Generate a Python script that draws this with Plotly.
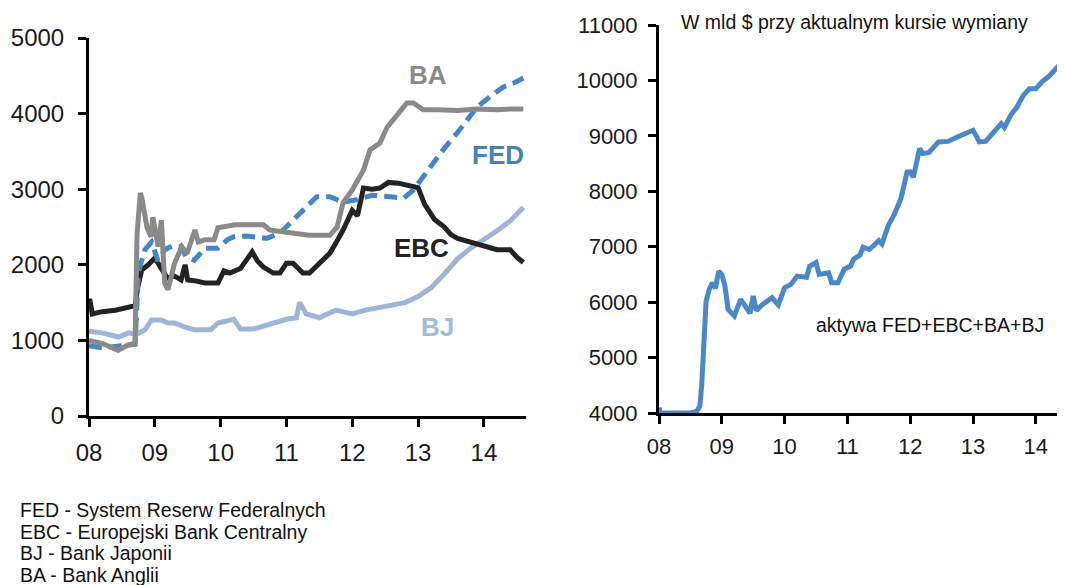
import plotly.graph_objects as go

# ---------------- data (left panel: central bank assets, bn $) ----------------
fed_x = [8.0, 8.2, 8.4, 8.6, 8.7, 8.75, 8.85, 8.95, 9.05, 9.15, 9.27, 9.4, 9.48, 9.6, 9.76, 9.96,
         10.1, 10.2, 10.4, 10.7, 10.9, 11.1, 11.25, 11.46, 11.66, 11.86, 12.07, 12.3, 12.58, 12.78,
         12.93, 13.14, 13.38, 13.59, 13.74, 13.9, 14.09, 14.29, 14.44, 14.6]
fed_y = [930, 900, 920, 950, 950, 1900, 2200, 2300, 2050, 2200, 2250, 2240, 2100, 2060, 2220, 2220,
         2330, 2370, 2380, 2350, 2420, 2590, 2720, 2900, 2900, 2830, 2860, 2920, 2900, 2880,
         2990, 3250, 3520, 3740, 3915, 4090, 4220, 4350, 4400, 4470]

ebc_x = [8.0, 8.01, 8.05, 8.2, 8.4, 8.55, 8.7, 8.74, 8.8, 8.9, 9.0, 9.1, 9.19, 9.3, 9.4, 9.46,
         9.5, 9.6, 9.76, 9.96, 10.05, 10.14, 10.3, 10.48, 10.56, 10.65, 10.8, 10.9, 11.0, 11.1,
         11.25, 11.35, 11.5, 11.66, 11.76, 11.86, 12.0, 12.08, 12.17, 12.3, 12.42, 12.55, 12.7, 12.85,
         13.0, 13.1, 13.25, 13.4, 13.5, 13.6, 13.8, 14.0, 14.2, 14.4, 14.5, 14.6]
ebc_y = [1500, 1550, 1350, 1380, 1400, 1430, 1460, 1700, 1930, 2000, 2090, 1950, 1825, 1850, 1800, 2000,
         1800, 1790, 1760, 1760, 1920, 1890, 1950, 2170, 2050, 1970, 1890, 1890, 2020, 2020,
         1890, 1890, 2020, 2155, 2300, 2460, 2720, 2650, 3015, 3000, 3015, 3090, 3080, 3050,
         3020, 2800, 2600, 2500, 2400, 2350, 2300, 2260, 2200, 2200, 2100, 2030]

ba_x = [8.0, 8.2, 8.44, 8.6, 8.7, 8.73, 8.78, 8.8, 8.88, 8.94, 8.97, 9.05, 9.1, 9.15, 9.2, 9.3,
        9.41, 9.49, 9.61, 9.66, 9.76, 9.9, 9.96, 10.22, 10.65, 10.75, 11.0, 11.34, 11.66, 11.77,
        11.86, 12.0, 12.17, 12.27, 12.42, 12.53, 12.68, 12.83, 12.93, 13.08, 13.3, 13.6, 13.9,
        14.2, 14.4, 14.6]
ba_y = [1000, 960, 870, 940, 965, 2400, 2950, 2900, 2500, 2370, 2630, 2240, 2590, 1760, 1670, 2020,
        2240, 2150, 2460, 2300, 2330, 2330, 2490, 2530, 2530, 2460, 2430, 2390, 2390, 2500,
        2820, 2990, 3250, 3520, 3610, 3820, 3980, 4140, 4140, 4050, 4050, 4040, 4060,
        4050, 4060, 4060]

bj_x = [8.0, 8.2, 8.45, 8.6, 8.72, 8.85, 8.95, 9.1, 9.2, 9.3, 9.45, 9.6, 9.85, 9.96, 10.2, 10.3,
        10.5, 10.7, 10.9, 11.0, 11.15, 11.2, 11.3, 11.5, 11.75, 12.0, 12.2, 12.5, 12.8, 13.0,
        13.2, 13.4, 13.6, 13.8, 14.0, 14.2, 14.4, 14.5, 14.6]
bj_y = [1120, 1100, 1045, 1100, 1080, 1140, 1270, 1270, 1230, 1230, 1180, 1140, 1140, 1230, 1280, 1150,
        1150, 1200, 1250, 1280, 1300, 1500, 1350, 1300, 1400, 1350, 1400, 1450, 1500, 1580,
        1700, 1880, 2080, 2220, 2330, 2450, 2580, 2660, 2760]

# ---------------- data (right panel: sum of four banks, bn $) ----------------
tot_x = [8.0, 8.02, 8.1, 8.3, 8.5, 8.6, 8.65, 8.68, 8.72, 8.75, 8.8, 8.85, 8.9, 8.95, 9.0, 9.05,
         9.1, 9.15, 9.2, 9.3, 9.4, 9.45, 9.5, 9.55, 9.65, 9.8, 9.9, 10.0, 10.1, 10.2, 10.35, 10.4,
         10.5, 10.55, 10.7, 10.75, 10.85, 10.95, 11.05, 11.1, 11.2, 11.25, 11.35, 11.5, 11.55, 11.65,
         11.75, 11.85, 11.95, 12.0, 12.05, 12.15, 12.2, 12.3, 12.45, 12.6, 12.75, 12.9, 13.0, 13.05,
         13.1, 13.2, 13.3, 13.45, 13.5, 13.6, 13.7, 13.8, 13.9, 14.0, 14.1, 14.2, 14.3, 14.4,
         14.43, 14.46]
tot_y = [4100, 4000, 4000, 3990, 4000, 4030, 4120, 4500, 5510, 6020, 6230, 6350, 6250, 6560, 6500, 6290,
         5870, 5810, 5750, 6050, 5900, 5800, 6110, 5850, 5960, 6080, 5950, 6260, 6320, 6470, 6450, 6650,
         6715, 6500, 6530, 6350, 6350, 6595, 6650, 6775, 6850, 6990, 6950, 7110, 7050, 7380,
         7590, 7860, 8345, 8350, 8255, 8770, 8680, 8700, 8890, 8900, 8980, 9050, 9100, 9000,
         8890, 8900, 9040, 9220, 9150, 9370, 9520, 9730, 9850, 9850, 9975, 10065, 10185, 10305,
         10245, 10300]

year_ticks = [8, 9, 10, 11, 12, 13, 14]
year_labels = ["08", "09", "10", "11", "12", "13", "14"]
left_ticks = [0, 1000, 2000, 3000, 4000, 5000]
right_ticks = [4000, 5000, 6000, 7000, 8000, 9000, 10000, 11000]

legend_lines = ["FED - System Reserw Federalnych",
                "EBC - Europejski Bank Centralny",
                "BJ - Bank Japonii",
                "BA - Bank Anglii"]

# ---------------- styles ----------------
C_FED = "#4686c4"
C_EBC = "#232323"
C_BA = "#8a8a8a"
C_BJ = "#9fb4d6"
C_TOT = "#4a88c6"
FONT = "Liberation Sans, Arial, sans-serif"
W, H = 1065, 585
OFF = 8  # page body margin


def px(x):
    return (x - OFF) / W


def py(y):
    return 1 - (y - OFF) / H


fig = go.Figure()
fig.add_trace(go.Scatter(x=bj_x, y=bj_y, mode="lines", line=dict(color=C_BJ, width=5),
                         xaxis="x", yaxis="y", showlegend=False))
fig.add_trace(go.Scatter(x=ebc_x, y=ebc_y, mode="lines", line=dict(color=C_EBC, width=5),
                         xaxis="x", yaxis="y", showlegend=False))
fig.add_trace(go.Scatter(x=fed_x, y=fed_y, mode="lines",
                         line=dict(color=C_FED, width=5, dash="13px,7px"),
                         xaxis="x", yaxis="y", showlegend=False))
fig.add_trace(go.Scatter(x=ba_x, y=ba_y, mode="lines", line=dict(color=C_BA, width=5),
                         xaxis="x", yaxis="y", showlegend=False))
fig.add_trace(go.Scatter(x=tot_x, y=tot_y, mode="lines", line=dict(color=C_TOT, width=5),
                         xaxis="x2", yaxis="y2", showlegend=False))

axis_common = dict(showgrid=False, zeroline=False, showline=True, linecolor="black", linewidth=3,
                   ticks="outside", ticklen=8, tickwidth=2.5, tickcolor="black", automargin=False)

fig.update_layout(
    width=W, height=H,
    margin=dict(l=0, r=0, t=0, b=0),
    paper_bgcolor="white", plot_bgcolor="white",
    xaxis=dict(domain=[px(89), px(526)], range=[8, 14.64], tickvals=year_ticks, ticktext=year_labels,
               anchor="y", tickfont=dict(family=FONT, size=24, color="#1a1a1a"),
               ticklabelstandoff=5, **axis_common),
    yaxis=dict(domain=[py(416), py(38)], range=[0, 5000], tickvals=left_ticks,
               ticktext=[str(v) for v in left_ticks], anchor="x",
               tickfont=dict(family=FONT, size=24, color="#1a1a1a"),
               ticklabelstandoff=9, **axis_common),
    xaxis2=dict(domain=[px(659), px(1065)], range=[8, 14.465], tickvals=year_ticks, ticktext=year_labels,
                anchor="y2", tickfont=dict(family=FONT, size=22, color="#1a1a1a"),
                ticklabelstandoff=4, **axis_common),
    yaxis2=dict(domain=[py(413), py(25)], range=[4000, 11000], tickvals=right_ticks,
                ticktext=[str(v) for v in right_ticks], anchor="x2",
                tickfont=dict(family=FONT, size=22, color="#1a1a1a"),
                ticklabelstandoff=6, **axis_common),
)

annos = [
    dict(text="<b>BA</b>", x=428, y=74.5, color=C_BA),
    dict(text="<b>FED</b>", x=498, y=155, color="#4a7fb8"),
    dict(text="<b>EBC</b>", x=421, y=248, color=C_EBC),
    dict(text="<b>BJ</b>", x=437, y=327, color="#a6badb"),
]
for a in annos:
    fig.add_annotation(text=a["text"], x=px(a["x"]), y=py(a["y"]), xref="paper", yref="paper",
                       xanchor="center", yanchor="middle", showarrow=False,
                       font=dict(family=FONT, size=26, color=a["color"]))

fig.add_annotation(text="W mld $ przy aktualnym kursie wymiany", x=px(679), y=py(22),
                   xref="paper", yref="paper", xanchor="left", yanchor="middle", showarrow=False,
                   font=dict(family=FONT, size=19.5, color="#111111"))
fig.add_annotation(text="aktywa FED+EBC+BA+BJ", x=px(814), y=py(325),
                   xref="paper", yref="paper", xanchor="left", yanchor="middle", showarrow=False,
                   font=dict(family=FONT, size=19.5, color="#111111"))

for i, line in enumerate(legend_lines):
    ypx = 510 + i * 21.7
    fig.add_annotation(text=line, x=px(18), y=py(ypx), xref="paper", yref="paper",
                       xanchor="left", yanchor="middle", showarrow=False,
                       font=dict(family=FONT, size=19.5, color="#111111"))

fig.write_html("out.html")
